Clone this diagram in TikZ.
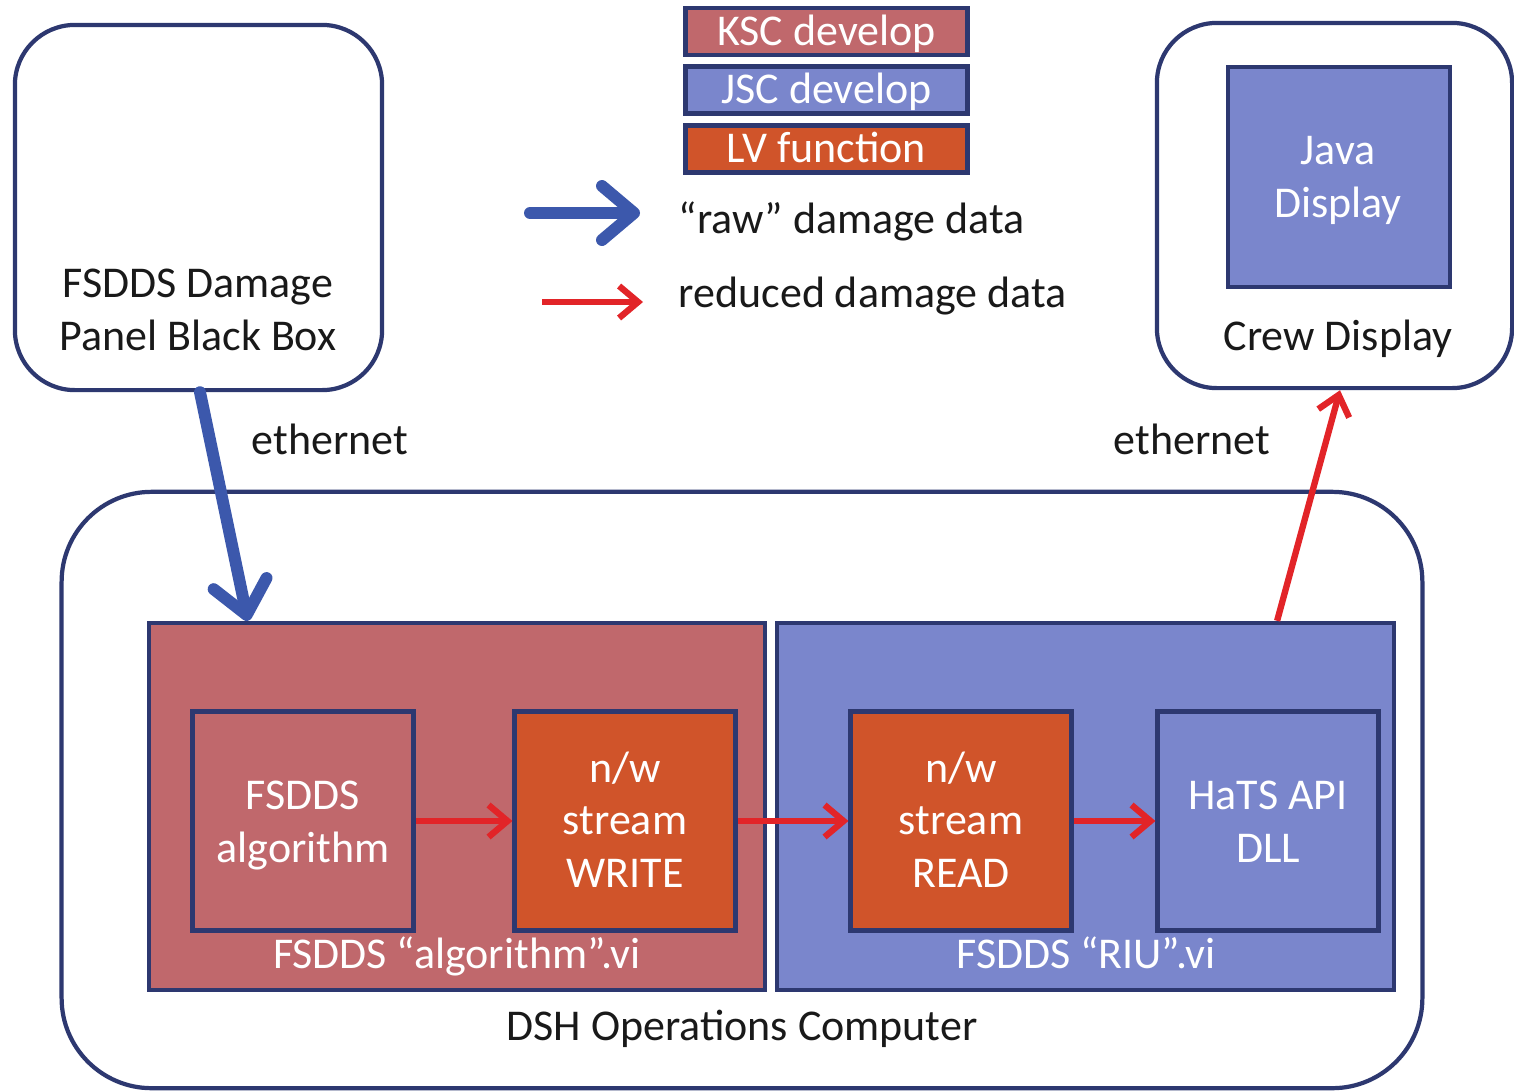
\documentclass[tikz,border=0pt]{standalone}
\usepackage{fontspec}
\setmainfont{Carlito}
\usetikzlibrary{arrows.meta}

\definecolor{navy}{RGB}{45,56,112}
\definecolor{kscpink}{RGB}{192,104,108}
\definecolor{jscblue}{RGB}{122,134,204}
\definecolor{lvorange}{RGB}{208,84,42}
\definecolor{rawblue}{RGB}{60,88,172}
\definecolor{redflow}{RGB}{226,36,40}
\definecolor{ink}{RGB}{25,25,25}

\tikzset{
  roundbox/.style={draw=navy, line width=1.2pt, fill=white, inner sep=0pt},
  panel/.style={draw=navy, line width=1.2pt, inner sep=0pt},
  innerbox/.style={draw=navy, line width=1.4pt, inner sep=0pt,
    minimum width=2.2cm, minimum height=2.18cm},
  keybox/.style={draw=navy, line width=1.4pt, inner sep=0pt,
    minimum width=2.81cm, minimum height=0.47cm},
  wtext/.style={text=white, align=center, inner sep=0pt, anchor=base},
  btext/.style={text=ink, align=center, inner sep=0pt, anchor=base},
  rawflow/.style={draw=rawblue, line width=3.4pt, line cap=round,
    -{Straight Barb[length=0.32cm,width=0.54cm,round]}},
  reducedflow/.style={draw=redflow, line width=1.8pt,
    -{Straight Barb[length=0.19cm,width=0.32cm]}},
}

\begin{document}
\begin{tikzpicture}[x=0.01cm, y=-0.01cm,
  font=\fontsize{12.5}{14.8}\selectfont]
  \useasboundingbox[fill=white] (0,0) rectangle (1514,1090);

  % outer computer and the two external units
  \node[roundbox, rounded corners=0.9cm, minimum width=13.6cm,
    minimum height=5.96cm] (dsh) at (742,790) {};
  \node[roundbox, rounded corners=0.6cm, minimum width=3.67cm,
    minimum height=3.65cm] (bb) at (198.5,207.5) {};
  \node[roundbox, rounded corners=0.6cm, minimum width=3.55cm,
    minimum height=3.65cm] (crew) at (1334.5,205.5) {};
  \node[panel, fill=jscblue, minimum width=2.22cm, minimum height=2.2cm]
    (java) at (1339,177) {};

  % the two virtual instruments
  \node[panel, fill=kscpink, minimum width=6.16cm, minimum height=3.67cm]
    (ksc) at (457,806.5) {};
  \node[panel, fill=jscblue, minimum width=6.17cm, minimum height=3.67cm]
    (jsc) at (1085.5,806.5) {};

  \node[innerbox, fill=kscpink]  (alg)   at (303,821) {};
  \node[innerbox, fill=lvorange] (write) at (625,821) {};
  \node[innerbox, fill=lvorange] (read)  at (961,821) {};
  \node[innerbox, fill=jscblue]  (hats)  at (1268,821) {};

  % key
  \node[keybox, fill=kscpink]  (keyksc) at (826.5,31.5) {};
  \node[keybox, fill=jscblue]  (keyjsc) at (826.5,90) {};
  \node[keybox, fill=lvorange] (keylv)  at (826.5,149) {};
  \node[wtext] (keyksctxt) at (826.5,45)  {KSC develop};
  \node[wtext] (keyjsctxt) at (826.5,103) {JSC develop};
  \node[wtext] (keylvtxt)  at (826.5,162) {LV function};

  \coordinate (rawA) at (530,213);
  \coordinate (rawB) at (640,213);
  \coordinate (redA) at (542,302);
  \coordinate (redB) at (643,302);
  \draw[rawflow] (rawA) -- (rawB);
  \draw[reducedflow] (redA) -- (redB);
  \node[btext, anchor=base west] (rawtxt) at (678,233) {“raw” damage data};
  \node[btext, anchor=base west] (redtxt) at (678,307) {reduced damage data};

  % labels (multi-line nodes sit on the baseline of their last line)
  \node[btext] (bbtxt) at (198,350) {FSDDS Damage\\Panel Black Box};
  \node[btext] (crewtxt) at (1338,350) {Crew Display};
  \node[wtext] (javatxt) at (1338,217) {Java\\Display};
  \node[btext] (ethL) at (330,454) {ethernet};
  \node[btext] (ethR) at (1192,454) {ethernet};
  \node[wtext] (algtxt) at (303,862) {FSDDS\\algorithm};
  \node[wtext] (writetxt) at (625,887) {n/w\\stream\\WRITE};
  \node[wtext] (readtxt) at (961,887) {n/w\\stream\\READ};
  \node[wtext] (hatstxt) at (1268,862) {HaTS API\\DLL};
  \node[wtext] (kscvi) at (457,968) {FSDDS “algorithm”.vi};
  \node[wtext] (jscvi) at (1086,968) {FSDDS “RIU”.vi};
  \node[btext] (dshtxt) at (742,1040) {DSH Operations Computer};

  % data flow
  \draw[rawflow] ([xshift=0.015cm]bb.south) -- ([xshift=-2.09cm]ksc.north);
  \draw[reducedflow] (alg.east) -- (write.west);
  \draw[reducedflow] (write.east) -- (read.west);
  \draw[reducedflow] (read.east) -- (hats.west);
  \draw[reducedflow] ([xshift=1.915cm]jsc.north) -- ([xshift=0.055cm]crew.south);
\end{tikzpicture}
\end{document}
